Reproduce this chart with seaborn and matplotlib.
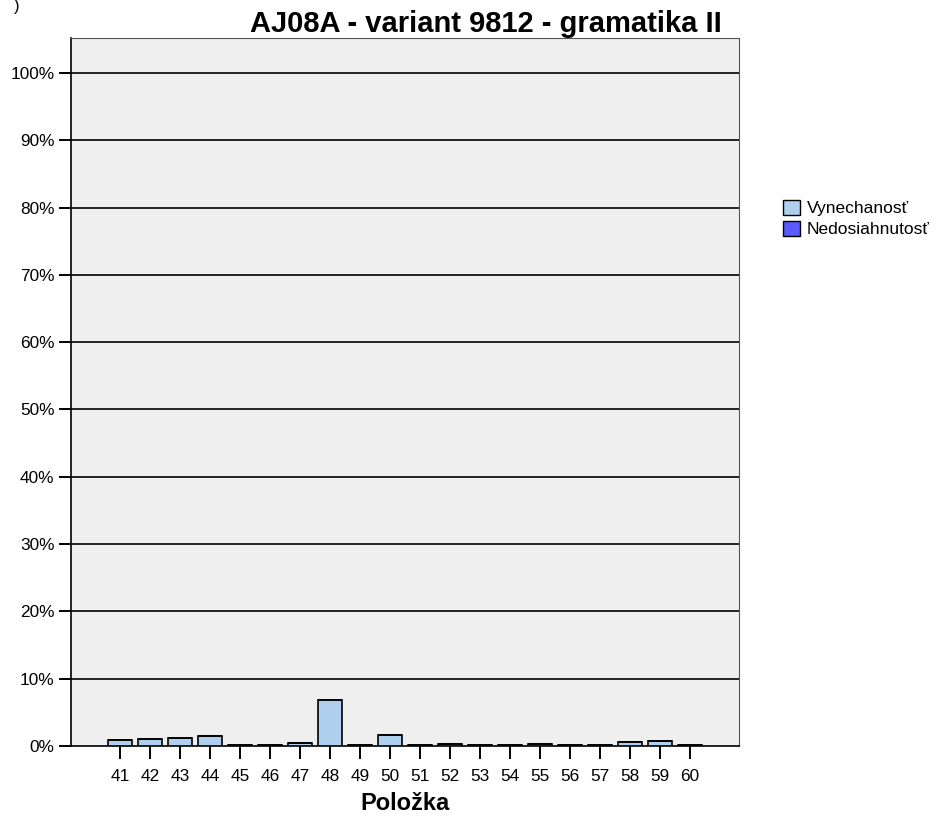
import matplotlib
matplotlib.use('Agg')
import pandas as pd
import numpy as np
import seaborn as sns
import matplotlib.pyplot as plt
from matplotlib.patches import Patch
from matplotlib.ticker import FuncFormatter

# data (percent)
polozky = [str(i) for i in range(41, 61)]
vynechanost = [0.9, 1.0, 1.2, 1.5, 0.2, 0.1, 0.45, 6.8, 0.2, 1.6,
               0.1, 0.35, 0.15, 0.2, 0.35, 0.2, 0.1, 0.6, 0.7, 0.15]
nedosiahnutost = [0.0] * 20
legend_labels = ['Vynechanosť', 'Nedosiahnutosť']
colors = ['#aed0ee', '#5a5aff']

df = pd.DataFrame({'Položka': polozky,
                   'Vynechanosť': vynechanost,
                   'Nedosiahnutosť': nedosiahnutost})

sns.set_style('white')
plt.rcParams['font.family'] = ['Liberation Sans', 'DejaVu Sans']
plt.rcParams['text.color'] = 'black'
plt.rcParams['axes.labelcolor'] = 'black'
plt.rcParams['xtick.color'] = 'black'
plt.rcParams['ytick.color'] = 'black'

fig = plt.figure(figsize=(9.39, 8.16), dpi=100)
ax = fig.add_axes([71 / 939, 70 / 816, 668 / 939, 708 / 816])
ax.set_facecolor('#efefef')

# grid lines
for v in range(10, 101, 10):
    ax.axhline(v, color='black', lw=1.2, zorder=1)

sns.barplot(data=df, x='Položka', y='Vynechanosť', color=colors[0],
            edgecolor='black', linewidth=1.2, width=0.8, saturation=1,
            ax=ax, zorder=3)
sns.barplot(data=df, x='Položka', y='Nedosiahnutosť', color=colors[1],
            edgecolor='black', linewidth=1.2, width=0.8, saturation=1,
            bottom=df['Vynechanosť'], ax=ax, zorder=3)

ax.set_xlim(-1.63, 20.63)
ax.set_ylim(0, 105.2)
ax.set_yticks(range(0, 101, 10))
ax.yaxis.set_major_formatter(FuncFormatter(lambda v, p: f'{int(v)}%'))
ax.tick_params(axis='both', direction='out', length=9, width=1.4,
               color='black', labelsize=12.4, bottom=True, left=True)
ax.tick_params(axis='x', pad=7.5)
ax.tick_params(axis='y', pad=3)
ax.set_ylabel('')
ax.set_xlabel('Položka', fontsize=17, fontweight='bold', labelpad=6)

for s in ['left', 'bottom']:
    ax.spines[s].set_color('black')
    ax.spines[s].set_linewidth(1.2)
for s in ['top', 'right']:
    ax.spines[s].set_color('#555555')
    ax.spines[s].set_linewidth(0.8)

fig.text(486 / 939, 1 - 32 / 816, 'AJ08A - variant 9812 - gramatika II',
         ha='center', va='baseline', fontsize=21, fontweight='bold')
fig.text(14 / 939, 1 - 6 / 816, ')', ha='left', va='center', fontsize=12)

handles = [Patch(facecolor=c, edgecolor='black', linewidth=1.0) for c in colors]
fig.legend(handles, legend_labels, loc='upper left',
           bbox_to_anchor=(783 / 939, 1 - 200 / 816), frameon=False,
           fontsize=12.5, handlelength=1.0, handleheight=0.95,
           handletextpad=0.35, labelspacing=0.25, borderpad=0,
           borderaxespad=0)

fig.savefig('out.png', dpi=100)
